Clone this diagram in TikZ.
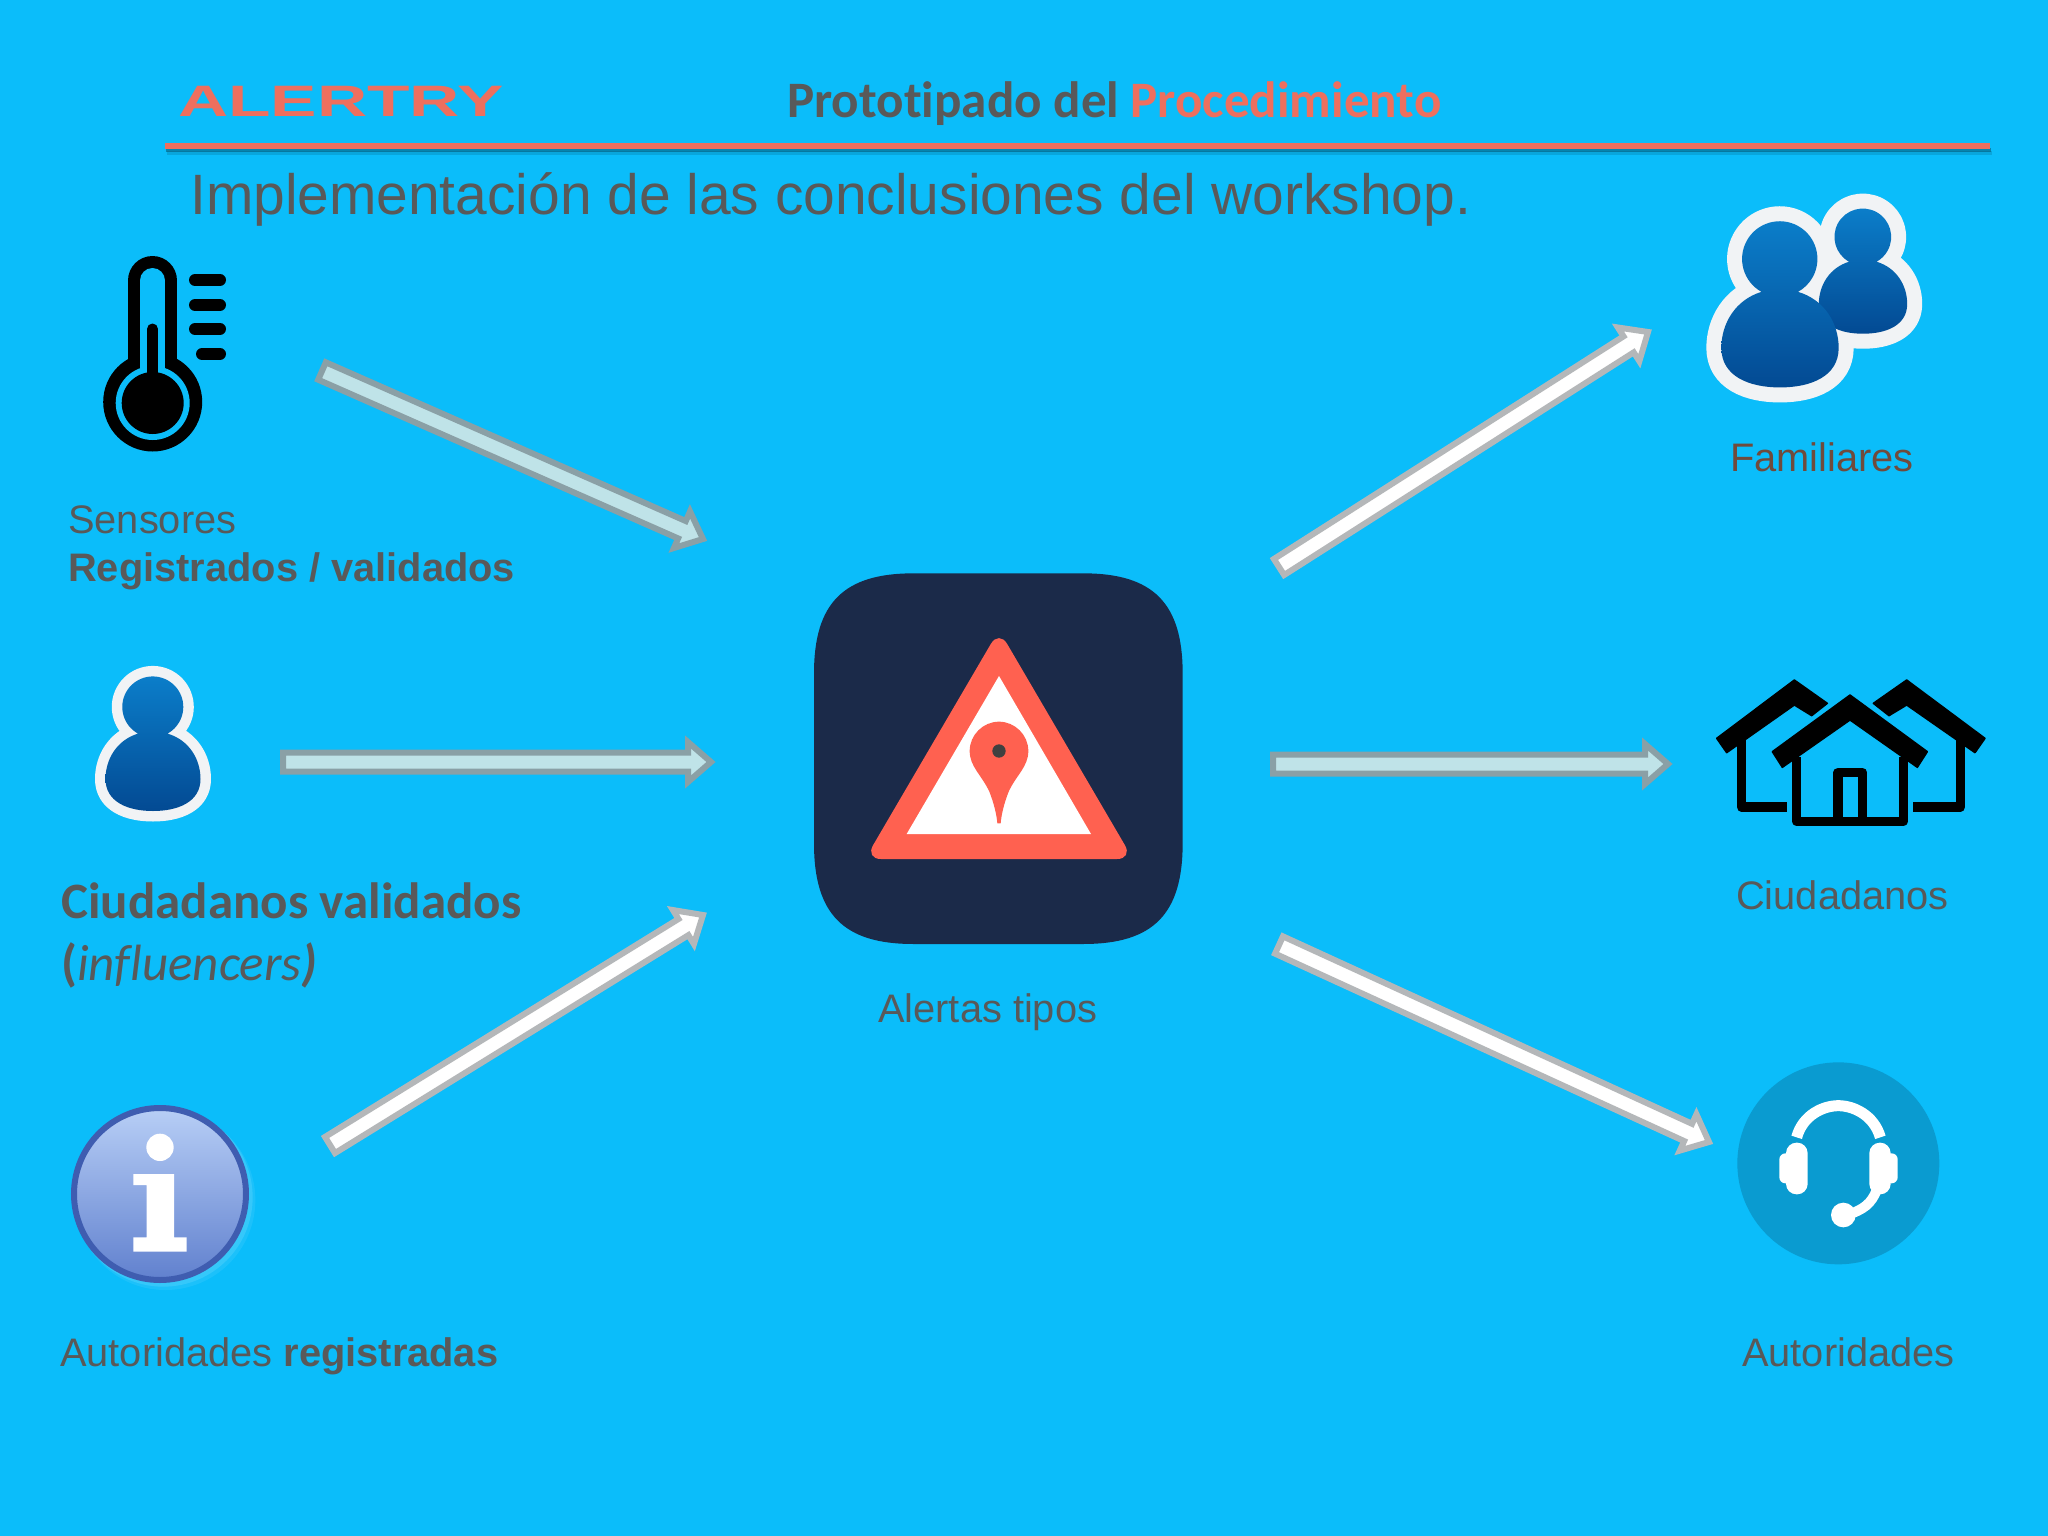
\documentclass[tikz,border=0pt]{standalone}
\usepackage{fontspec}
\usepackage{graphicx}
\setmainfont{Liberation Sans}
\newfontfamily\carlito[Ligatures=CommonOff]{Carlito}
\usetikzlibrary{calc}
\definecolor{bgblue}{HTML}{0BBDFA}
\definecolor{txtgray}{HTML}{595959}
\definecolor{brownish}{HTML}{704B3C}
\definecolor{coral}{HTML}{EE6F5E}
\definecolor{iconcoral}{HTML}{FF6150}
\definecolor{navy}{HTML}{1B2A49}
\definecolor{paleedge}{HTML}{8AA0A6}
\definecolor{palefill}{HTML}{BFE3E8}
\definecolor{greyedge}{HTML}{B4B7B9}
\definecolor{halo}{HTML}{F1F3F5}
\definecolor{ptop}{HTML}{0B7FCB}
\definecolor{pbot}{HTML}{034A93}
\definecolor{infotop}{HTML}{B8CFF6}
\definecolor{infobot}{HTML}{6080CE}
\definecolor{infoedge}{HTML}{3F5DB0}
\definecolor{headblue}{HTML}{0A9BD0}
\tikzset{
  x=1pt,y=-1pt,
  lbl/.style={anchor=base west,inner sep=0pt,text=txtgray,font=\fontsize{39.8}{40}\selectfont},
  ttl/.style={anchor=base west,inner sep=0pt},
  palearrow/.style={draw=paleedge,fill=palefill,line width=6pt,miter limit=10},
  whitearrow/.style={draw=greyedge,fill=white,line width=6pt,miter limit=10},
  roof/.style={fill=black,draw=black,line width=1.5pt,line join=round}
}
% block arrow between two named coordinates
\newcommand\blockarrow[3]{%
  \draw[#3] ($(#1)!9.5pt!90:(#2)$)
    -- ($($(#2)!23pt!(#1)$)!9.5pt!90:(#2)$)
    -- ($($(#2)!23pt!(#1)$)!20pt!90:(#2)$)
    -- (#2)
    -- ($($(#2)!23pt!(#1)$)!20pt!-90:(#2)$)
    -- ($($(#2)!23pt!(#1)$)!9.5pt!-90:(#2)$)
    -- ($(#1)!9.5pt!-90:(#2)$) -- cycle;}
\newcommand\personpath{(-15,26.6) arc[start angle=119,end angle=421,radius=30.5]
  .. controls (36,33) and (47.5,52) .. (47.5,72)
  .. controls (47.5,95) and (25,104) .. (0,104)
  .. controls (-25,104) and (-47.5,95) .. (-47.5,72)
  .. controls (-47.5,52) and (-36,33) .. (-15,26.6) -- cycle}
\begin{document}
\begin{tikzpicture}
\useasboundingbox (0,0) rectangle (2048,1536);
\fill[bgblue] (0,0) rectangle (2048,1536);

% header
\node[ttl,text=coral] (logo) at (178,117) {\scalebox{1.58}[1]{\bfseries\fontsize{44}{44}\selectfont ALERTRY}};
\node[ttl,font=\carlito\bfseries\fontsize{51.1}{51}\selectfont] (title) at (787,118) {\textcolor{txtgray}{Prototipado del }\textcolor{coral}{Procedimiento}};
\coordinate (ruleL) at (165,146);
\coordinate (ruleR) at (1990,146);
\draw[color=black!60!bgblue,line width=4pt,opacity=.5] ($(ruleL)+(1,4)$) -- ($(ruleR)+(1,4)$);
\draw[color=black!60!bgblue,line width=4pt,opacity=.2] ($(ruleL)+(2,7)$) -- ($(ruleR)+(2,7)$);
\draw[coral,line width=6pt] (ruleL) -- (ruleR);
\node[lbl,font=\fontsize{56.9}{56}\selectfont] (sub) at (190,214) {Implementación de las conclusiones del workshop.};

% thermometer
\draw[black,line width=49pt,line cap=round] (152.5,280.5) -- (152.5,380);
\fill[black] (152.7,402) circle[radius=49.5];
\draw[bgblue,line width=25pt,line cap=round] (152.5,280.5) -- (152.5,380);
\fill[bgblue] (152.7,403) circle[radius=37];
\fill[black] (152.7,403) circle[radius=31];
\draw[black,line width=11pt,line cap=round] (152.5,329) -- (152.5,385);
\foreach \yy/\xx in {280/195,305/195,329/195,354/202}{
  \draw[black,line width=12pt,line cap=round] (\xx,\yy) -- (220,\yy);}
\node[lbl] (sens) at (68,533) {Sensores};
\node[lbl] (reg) at (68,581) {\bfseries Registrados / validados};

% single person
\begin{scope}[shift={(153,707)}]
  \draw[halo,line width=21pt,line join=round] \personpath;
  \shade[top color=ptop,bottom color=pbot] \personpath;
\end{scope}
\node[lbl,font=\carlito\bfseries\fontsize{51}{51}\selectfont] (ciuv) at (61,918) {Ciudadanos validados};
\node[lbl,font=\carlito\fontsize{51}{51}\selectfont] (infl) at (61,980) {\textbf{(}\textit{influencers}\textbf{\textit{)}}};

% info icon
\begin{scope}[shift={(50,1090)},scale=1/3]
  \fill[white!60!bgblue,opacity=.12] (346,330) circle[radius=270];
  \fill[white!60!bgblue,opacity=.2] (340,322) circle[radius=268];
  \shade[top color=infotop,bottom color=infobot] (330,312) circle[radius=262];
  \draw[infoedge,line width=6pt] (330,312) circle[radius=258];
  \fill[white] (330,172) circle[radius=41];
  \fill[white] (250,252) -- (372,252) -- (372,442) -- (410,442) -- (410,485) -- (250,485) -- (250,442) -- (290,442) -- (290,285) -- (250,285) -- cycle;
\end{scope}
\node[lbl] (autr) at (60,1366) {Autoridades \textbf{registradas}};

% centre icon
\begin{scope}[shift={(780,540)},scale=1/3]
  \fill[navy] (400,100) -- (910,100) .. controls (1120,100) and (1208,190) .. (1208,400)
    -- (1208,910) .. controls (1208,1122) and (1120,1212) .. (910,1212)
    -- (400,1212) .. controls (190,1212) and (102,1122) .. (102,910)
    -- (102,400) .. controls (102,190) and (190,100) .. (400,100) -- cycle;
  \fill[iconcoral,rounded corners=16pt] (657,270) -- (1059,957) -- (255,957) -- cycle;
  \fill[white] (657,408) -- (933,882) -- (380,882) -- cycle;
  \fill[iconcoral] (569,633) .. controls (569,680) and (605,705) .. (628,755)
    .. controls (642,790) and (650,825) .. (652,850) -- (662,850)
    .. controls (664,825) and (672,790) .. (686,755)
    .. controls (709,705) and (745,680) .. (745,633)
    .. controls (745,585) and (705,545) .. (657,545)
    .. controls (609,545) and (569,585) .. (569,633) -- cycle;
  \fill[black!75] (657,633) circle[radius=20];
\end{scope}
\node[lbl] (alert) at (878,1022) {Alertas tipos};

% Familiares
\begin{scope}[shift={(1780,259)},scale=1.235]
  \draw[halo,line width=30pt,line join=round] \personpath;
\end{scope}
\begin{scope}[shift={(1863,237)},scale=.93]
  \draw[halo,line width=30pt,line join=round] \personpath;
  \shade[top color=ptop,bottom color=pbot] \personpath;
\end{scope}
\begin{scope}[shift={(1780,259)},scale=1.235]
  \shade[top color=ptop,bottom color=pbot] \personpath;
\end{scope}
\node[lbl,text=brownish] (fam) at (1730,471) {Familiares};

% houses
\begin{scope}[shift={(1690,660)},scale=1/3]
  \path[roof] (313,60) -- (412,130) -- (365,167) -- (313,135) -- (110,278) -- (80,235) -- cycle;
  \path[roof] (650,60) -- (885,235) -- (855,278) -- (650,135) -- (597,167) -- (550,130) -- cycle;
  \draw[black,line width=9.5pt,line join=round] (155,240) -- (155,441) -- (292,441);
  \draw[black,line width=9.5pt,line join=round] (811,240) -- (811,441) -- (668,441);
  \path[roof] (480,105) -- (712,275) -- (682,322) -- (480,180) -- (277,322) -- (247,275) -- cycle;
  \draw[black,line width=9.5pt,line join=round] (320,290) -- (320,484) -- (640,484) -- (640,290);
  \draw[black,line width=9.5pt,line join=round] (444,484) -- (444,338) -- (518,338) -- (518,484);
\end{scope}
\node[lbl] (ciu) at (1736,909) {Ciudadanos};

% headset
\begin{scope}[shift={(1700,1040)},scale=1/3]
  \fill[headblue] (415,370) circle[radius=303];
  \draw[white,line width=11pt] (290,292) .. controls (308,225) and (370,197) .. (415,197) .. controls (460,197) and (522,225) .. (541,292);
  \fill[white,rounded corners=10.5pt] (258,308) rectangle (323,463);
  \fill[white,rounded corners=6pt] (238,340) rectangle (275,430);
  \fill[white,rounded corners=10.5pt] (508,308) rectangle (572,463);
  \fill[white,rounded corners=6pt] (555,340) rectangle (593,430);
  \draw[white,line width=10pt] (530,450) .. controls (515,490) and (490,510) .. (440,525);
  \fill[white] (430,525) circle[radius=37];
\end{scope}
\node[lbl] (aut) at (1742,1366) {Autoridades};

% arrows
\coordinate (a1s) at (322,371); \coordinate (a1e) at (703,539);
\coordinate (a2s) at (283,762); \coordinate (a2e) at (711,762);
\coordinate (a3s) at (330,1145); \coordinate (a3e) at (703,915);
\coordinate (b1s) at (1279,567); \coordinate (b1e) at (1648,332);
\coordinate (b2s) at (1273,764); \coordinate (b2e) at (1668,764);
\coordinate (b3s) at (1279,945); \coordinate (b3e) at (1709,1142);
\blockarrow{a1s}{a1e}{palearrow}
\blockarrow{a2s}{a2e}{palearrow}
\blockarrow{a3s}{a3e}{whitearrow}
\blockarrow{b1s}{b1e}{whitearrow}
\blockarrow{b2s}{b2e}{palearrow}
\blockarrow{b3s}{b3e}{whitearrow}
\end{tikzpicture}
\end{document}
